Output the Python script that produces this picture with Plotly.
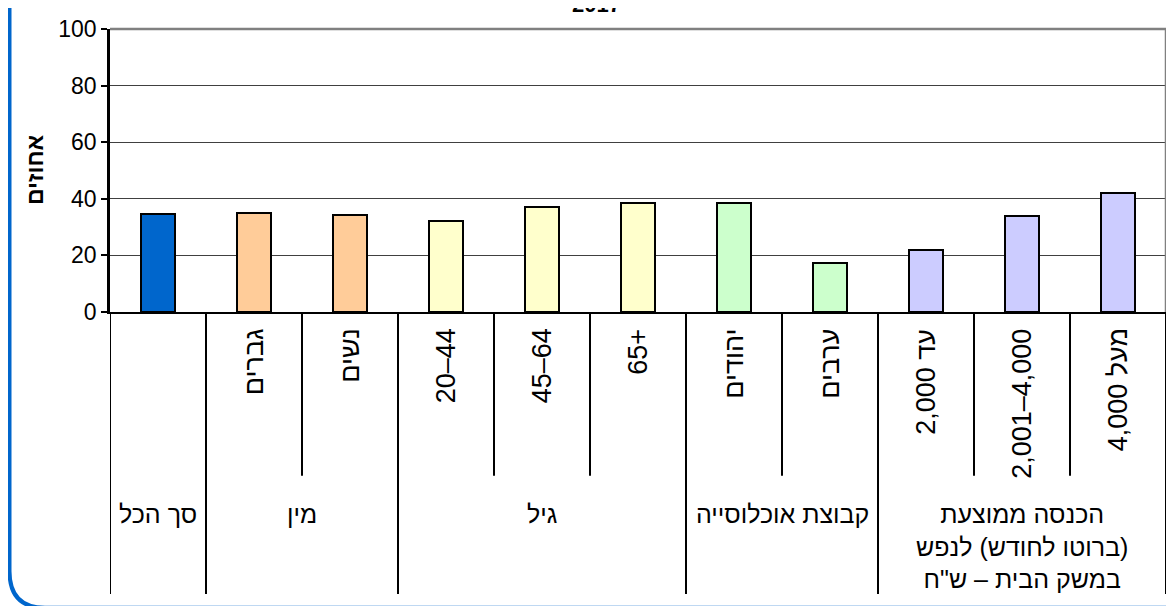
import plotly.graph_objects as go

# ---------------- data ----------------
title_text = "2017"
y_title = "אחוזים"
groups = ["סך הכל", "מין", "גיל", "קבוצת אוכלוסייה",
          "הכנסה ממוצעת<br>(ברוטו לחודש) לנפש<br>במשק הבית – ש\"ח"]
group_sizes = [1, 2, 3, 2, 3]
group_colors = ["#0066CC", "#FFCC99", "#FFFFCC", "#CCFFCC", "#CCCCFF"]
sub_labels = ["", "גברים", "נשים", "20–44", "45–64", "65+",
              "יהודים", "ערבים", "עד 2,000", "2,001–4,000", "מעל 4,000"]
values = [34.7, 35.1, 34.3, 32.0, 37.1, 38.5, 38.6, 17.4, 22.0, 34.1, 42.2]
y_ticks = [0, 20, 40, 60, 80, 100]

# ---------------- layout helpers (page pixel coordinates) ----------------
PAGE_W, PAGE_H = 1174, 606
OFF = 8  # default body margin of the html page
W, H = PAGE_W - OFF, PAGE_H - OFF
L, R, T, B = 110, 1166, 25, 312


def px(x):
    return (x - L) / (R - L)


def py(y):
    return (B - y) / (B - T)


def has_hebrew(s):
    return any('\u0590' <= c <= '\u05ff' for c in s)


def rtl(s):
    if not has_hebrew(s):
        return s
    return "<br>".join("\u200f" + part + "\u200f" for part in s.split("<br>"))


FONT = "Arial, Liberation Sans, DejaVu Sans, sans-serif"

bar_colors = []
for c, n in zip(group_colors, group_sizes):
    bar_colors += [c] * n

xs = list(range(len(values)))

fig = go.Figure()
fig.add_trace(go.Bar(
    x=xs, y=values, width=0.35,
    marker=dict(color=bar_colors, line=dict(color="black", width=2)),
    hoverinfo="skip",
))

shapes = []
annotations = []

# plot frame top and right (gray)
shapes.append(dict(type="line", xref="paper", yref="paper", x0=0, x1=1, y0=1, y1=1,
                   line=dict(color="#808080", width=2.5)))
shapes.append(dict(type="line", xref="paper", yref="paper", x0=1, x1=1, y0=0, y1=1,
                   line=dict(color="#808080", width=2.5)))

# category separators
group_bounds = [0]
for n in group_sizes:
    group_bounds.append(group_bounds[-1] + n)
n_cat = len(values)
for b in range(n_cat + 1):
    full = b in group_bounds
    y_end = py(598) if full else py(478)
    shapes.append(dict(type="line", xref="x", yref="paper", x0=b - 0.5, x1=b - 0.5,
                       y0=0, y1=y_end, line=dict(color="black", width=2)))

# sub labels (rotated)
for i, lab in enumerate(sub_labels):
    if not lab:
        continue
    annotations.append(dict(x=i, y=py(327), xref="x", yref="paper", text=rtl(lab),
                            textangle=-90, showarrow=False, xanchor="center", yanchor="top",
                            font=dict(family=FONT, size=27, color="black")))

# group labels
for g, (lab, s0, s1) in enumerate(zip(groups, group_bounds[:-1], group_bounds[1:])):
    xc = (s0 + s1 - 1) / 2
    annotations.append(dict(x=xc, y=py(501), xref="x", yref="paper", text=rtl(lab),
                            showarrow=False, xanchor="center", yanchor="top", align="center",
                            font=dict(family=FONT, size=25, color="black")))

# y axis title
annotations.append(dict(x=px(35), y=py(168), xref="paper", yref="paper",
                        text="<b>" + rtl(y_title) + "</b>",
                        textangle=-90, showarrow=False, xanchor="center", yanchor="middle",
                        font=dict(family=FONT, size=23, color="black")))

# chart title (cut at the top of the page)
annotations.append(dict(x=px(596), y=py(15), xref="paper", yref="paper",
                        text="<b>" + title_text + "</b>",
                        showarrow=False, xanchor="center", yanchor="bottom",
                        font=dict(family=FONT, size=22, color="black")))

# blue rounded frame (left side and bottom-left corner)
p = lambda x, y: f"{px(x)},{py(y)}"
path = f"M {p(9.5, -10)} L {p(9.5, 575)} Q {p(9.5, 612)} {p(45, 612)} L {p(1300, 612)}"
shapes.append(dict(type="path", xref="paper", yref="paper", path=path,
                   line=dict(color="#0066CC", width=4)))

fig.update_layout(
    width=W, height=H,
    margin=dict(l=L - OFF, r=PAGE_W - R, t=T - OFF, b=PAGE_H - B, pad=0),
    paper_bgcolor="white", plot_bgcolor="white",
    showlegend=False,
    bargap=0.0,
    xaxis=dict(range=[-0.5, n_cat - 0.5], showticklabels=False, showgrid=False, zeroline=False,
               showline=True, linecolor="black", linewidth=2, ticks="", fixedrange=True),
    yaxis=dict(range=[0, 100], tickvals=y_ticks, ticktext=[str(v) for v in y_ticks],
               showgrid=True, gridcolor="#404040", gridwidth=1, zeroline=False,
               showline=True, linecolor="black", linewidth=2.5,
               ticks="outside", ticklen=6, tickwidth=2, tickcolor="black",
               tickfont=dict(family=FONT, size=23, color="black"), fixedrange=True),
    shapes=shapes,
    annotations=annotations,
)

fig.write_html("out.html")
